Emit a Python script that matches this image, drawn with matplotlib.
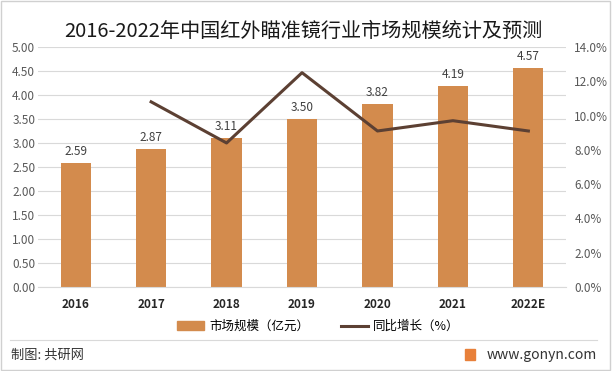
import numpy as np
import matplotlib.pyplot as plt
from matplotlib.lines import Line2D
from matplotlib.patches import Patch, Rectangle

plt.rcParams['font.family'] = ['Noto Sans CJK SC', 'DejaVu Sans']

years = ['2016', '2017', '2018', '2019', '2020', '2021', '2022E']
market = [2.59, 2.87, 3.11, 3.50, 3.82, 4.19, 4.57]
growth = [None, 10.8, 8.4, 12.5, 9.1, 9.7, 9.1]

bar_color = '#D38B4D'
line_color = '#5C4033'
grid_color = '#D9D9D9'
tick_color = '#595959'

fig = plt.figure(figsize=(6.12, 3.71), dpi=100)
ax = fig.add_axes([0.062, 0.2264, 0.863, 0.647])
ax2 = ax.twinx()

x = np.arange(len(years))
ax.bar(x, market, width=0.4, color=bar_color, zorder=2)
for xi, v in zip(x, market):
    ax.text(xi, v + 0.1, f'{v:.2f}', ha='center', va='bottom', fontsize=8.5, color='#404040')

gx = [xi for xi, g in zip(x, growth) if g is not None]
gy = [g for g in growth if g is not None]
ax2.plot(gx, gy, color=line_color, lw=2.2, zorder=3)

ax.set_xlim(-0.5, len(years) - 0.5)
ax.set_ylim(0, 5)
ax.set_yticks(np.arange(0, 5.01, 0.5))
ax.set_yticklabels([f'{t:.2f}' for t in np.arange(0, 5.01, 0.5)])
ax2.set_ylim(0, 14)
ax2.set_yticks(np.arange(0, 14.1, 2))
ax2.set_yticklabels([f'{t:.1f}%' for t in np.arange(0, 14.1, 2)])
ax.set_xticks(x)
ax.set_xticklabels(years, fontsize=8, color='#262626', fontweight='bold')

ax.yaxis.grid(True, color=grid_color, lw=0.8, zorder=0)
ax.set_axisbelow(True)
for a in (ax, ax2):
    for s in a.spines.values():
        s.set_visible(False)
    a.tick_params(length=0, labelsize=8.5, labelcolor=tick_color)
ax.tick_params(axis='x', labelcolor='#262626', pad=8)
ax.tick_params(axis='y', pad=2)
ax2.tick_params(axis='y', pad=6)
ax.spines['bottom'].set_visible(True)
ax.spines['bottom'].set_color(grid_color)

fig.text(0.495, 0.915, '2016-2022年中国红外瞄准镜行业市场规模统计及预测', ha='center', va='center',
         fontsize=14.5, color='#1a1a1a')

handles = [Patch(color=bar_color), Line2D([0], [0], color=line_color, lw=2.2)]
fig.legend(handles, ['市场规模（亿元）', '同比增长（%）'], loc='center', bbox_to_anchor=(0.52, 0.12),
           ncol=2, frameon=False, fontsize=9, handlelength=2.2, columnspacing=2.5, handletextpad=0.4)

fig.add_artist(Line2D([0.016, 0.975], [0.083, 0.083], color='#D9D9D9', lw=0.8, transform=fig.transFigure))
fig.add_artist(Rectangle((0.002, 0.003), 0.995, 0.993, fill=False, ec='#D0D0D0', lw=1, transform=fig.transFigure))
fig.text(0.018, 0.043, '制图: 共研网', ha='left', va='center', fontsize=9.5, color='#333333')
fig.add_artist(Rectangle((0.76, 0.03), 0.016, 0.03, color='#E8803A', transform=fig.transFigure))
fig.text(0.975, 0.043, 'www.gonyn.com', ha='right', va='center', fontsize=10, color='#333333')

fig.savefig('out.png', dpi=100)
